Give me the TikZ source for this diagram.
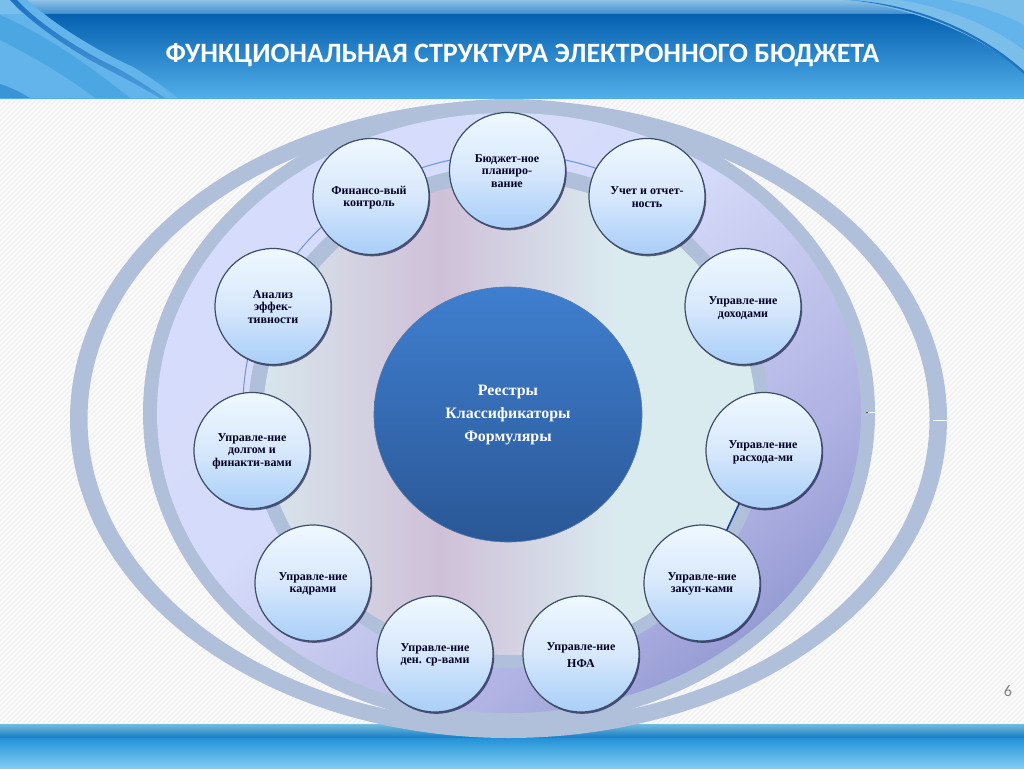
\documentclass[tikz,border=0pt]{standalone}
\usepackage{fontspec}
\setmainfont{Liberation Serif}
\newfontfamily\titlefont{Carlito}
\usetikzlibrary{shadows,shapes.geometric}
\definecolor{ringc}{HTML}{B0C0DB}
\definecolor{bordc}{HTML}{3E4E68}
\definecolor{bubA}{HTML}{ABCFF8}
\definecolor{bubB}{HTML}{B8D7FA}
\definecolor{bubC}{HTML}{D8E8FC}
\definecolor{bubD}{HTML}{EEF8FE}
\pgfdeclareverticalshading{bubshade}{100bp}{color(0bp)=(bubA);color(25bp)=(bubA);color(34bp)=(bubB);color(50bp)=(bubC);color(75bp)=(bubD);color(100bp)=(bubD)}
\definecolor{dA}{HTML}{D8E6EC}
\definecolor{dB}{HTML}{CFC0D8}
\definecolor{dC}{HTML}{DAEBF0}
\pgfdeclarehorizontalshading{discshade}{100bp}{color(0bp)=(dA);color(25bp)=(dA);color(43bp)=(dB);color(61bp)=(dC);color(75bp)=(dC);color(100bp)=(dC)}
\definecolor{hA}{HTML}{0560B0}
\definecolor{hB}{HTML}{52AEE8}
\pgfdeclareverticalshading{headshade}{100bp}{color(0bp)=(hB);color(25bp)=(hB);color(75bp)=(hA);color(100bp)=(hA)}
\definecolor{sA}{HTML}{8FC2E6}
\definecolor{sB}{HTML}{3D8CCF}
\pgfdeclareverticalshading{stripshade}{100bp}{color(0bp)=(sB);color(25bp)=(sB);color(75bp)=(sA);color(100bp)=(sA)}
\definecolor{fA}{HTML}{2090D6}
\definecolor{fB}{HTML}{7FCDF2}
\pgfdeclareverticalshading{footshade}{100bp}{color(0bp)=(fB);color(25bp)=(fB);color(75bp)=(fA);color(100bp)=(fA)}
\definecolor{gA}{HTML}{75BBDD}
\definecolor{gB}{HTML}{1A80C6}
\pgfdeclareverticalshading{fstripshade}{100bp}{color(0bp)=(gB);color(25bp)=(gB);color(75bp)=(gA);color(100bp)=(gA)}
\definecolor{lav1}{HTML}{9296D0}
\definecolor{lav2}{HTML}{9A9FD6}
\definecolor{lav3}{HTML}{B0B3E3}
\definecolor{lav4}{HTML}{C8CCF0}
\definecolor{lav5}{HTML}{D5DBFA}
\definecolor{lav6}{HTML}{D8DEFC}
\pgfdeclareverticalshading{lavshade}{100bp}{color(0bp)=(lav1);color(22bp)=(lav1);color(26bp)=(lav2);color(34bp)=(lav3);color(47bp)=(lav4);color(55bp)=(lav5);color(100bp)=(lav6)}
\definecolor{midA}{HTML}{3F7FCF}
\definecolor{midB}{HTML}{2A5796}
\definecolor{swL}{HTML}{62B4EA}
\definecolor{swM}{HTML}{4CA6E2}
\definecolor{swD}{HTML}{1F72BE}
\definecolor{swB}{HTML}{3C94D8}
\definecolor{swU}{HTML}{7CBEEA}
\tikzset{
  x=1pt,y=-1pt,
  bubble/.style={circle,draw=bordc,line width=1.2pt,minimum size=116pt,inner sep=0pt,shading=bubshade,
    drop shadow={shadow xshift=1.2pt,shadow yshift=-1.8pt,fill=black!75!blue,opacity=.6}},
  lab/.style={align=center,inner sep=0pt,text=black!85!blue,font=\fontsize{12}{12.5}\selectfont\bfseries},
  clab/.style={align=center,inner sep=0pt,text=white,font=\fontsize{15.9}{23}\selectfont\bfseries},
}
\begin{document}
\begin{tikzpicture}
\useasboundingbox (0,0) rectangle (1024,768);
% background
\fill[white!98.5!black] (0,0) rectangle (1024,768);
\begin{scope}
\clip (0,96) rectangle (1024,726);
\foreach \i in {0,5,...,1720}{\draw[black!6,line width=1.3pt] (\i-680,776)--(\i,96);}
\end{scope}
% header
\shade[shading=headshade] (0,14) rectangle (1024,98);
\shade[shading=stripshade] (0,0) rectangle (1024,14);
\begin{scope}
\clip (0,0) rectangle (1024,98);
\fill[swL] (0,0)--(27,0) .. controls (50,20) and (85,45) .. (133,67) .. controls (150,77) and (165,88) .. (178,98)--(0,98)--cycle;
\shade[top color=swD,bottom color=swL!65!swD] (10,0)--(17,0) .. controls (35,20) and (75,48) .. (115,67) .. controls (135,78) and (150,88) .. (165,98)--(160,98) .. controls (140,86) and (120,76) .. (103,67) .. controls (70,50) and (30,22) .. (10,0)--cycle;
\fill[swL!70!white,opacity=.5] (0,0)--(10,0) .. controls (14,5) and (18,10) .. (23,14)--(0,14)--cycle;
\fill[swM] (0,15) .. controls (40,32) and (85,62) .. (130,98)--(95,98) .. controls (65,75) and (30,55) .. (0,40)--cycle;
\fill[swB] (0,84) .. controls (10,87) and (20,92) .. (30,98)--(0,98)--cycle;
\fill[swU] (840,0) .. controls (925,8) and (985,40) .. (1024,72)--(1024,0)--cycle;
\fill[swD] (850,0) .. controls (925,8) and (985,38) .. (1024,74)--(1024,71) .. controls (985,36) and (925,5) .. (850,0)--cycle;
\fill[swL] (900,0) .. controls (950,8) and (995,28) .. (1024,50)--(1024,25) .. controls (1000,12) and (975,5) .. (950,0)--cycle;
\end{scope}
\node[inner sep=0pt,text=white] (title) at (522.5,55.5) {\titlefont\fontsize{28}{32}\selectfont\bfseries ФУНКЦИОНАЛЬНАЯ СТРУКТУРА ЭЛЕКТРОННОГО БЮДЖЕТА};
% footer
\shade[shading=footshade] (0,737) rectangle (1024,768);
\shade[shading=fstripshade] (0,724) rectangle (1024,737);
\node[inner sep=0pt,text=black!50] (pg) at (1008,691) {\titlefont\fontsize{16}{18}\selectfont 6};
% rings
\fill[ringc,even odd rule] (508.5,419) ellipse [x radius=438.5pt,y radius=319pt] (508.5,419) ellipse [x radius=421pt,y radius=303pt];
\fill[ringc] (509,413) ellipse [x radius=366pt,y radius=314pt];
\shade[shading=lavshade,shading angle=40] (509,413) ellipse [x radius=352pt,y radius=300pt];
% disc
\fill[ringc] (508.5,416.5) ellipse [x radius=260.5pt,y radius=251.5pt];
\shade[shading=discshade] (509.5,418) ellipse [x radius=246.5pt,y radius=237pt];
\draw[color={rgb,255:red,108;green,148;blue,218},line width=1pt] plot[domain=70:180,samples=70] ({508+265*cos(\x)},{406-252*sin(\x)});
% small marks
\draw[white,line width=.8pt] (933,420)--(947,420);
\draw[white,line width=.8pt] (868,412.5)--(875,412.5);
\draw[black!70,line width=.8pt] (866,412.5)--(867.5,412.5);
% centre
\node[ellipse,minimum width=268pt,minimum height=255pt,inner sep=0pt,draw=midB!80!white,line width=.6pt,top color=midA,bottom color=midB] (core) at (508,414.5) {};
\node[clab] (coret) at (508,415.5) {Реестры\\Классификаторы\\Формуляры};
% bubbles (connector first)
\coordinate (cA) at (764,450.5);
\coordinate (cB) at (702,583);
\draw[color={rgb,255:red,24;green,64;blue,140},line width=1.6pt] (cA)--(cB);
\node[bubble] (b1) at (507.5,170.5) {};
\node[bubble] (b2) at (647,196.5) {};
\node[bubble] (b3) at (743,306.5) {};
\node[bubble] (b4) at (cA) {};
\node[bubble] (b5) at (cB) {};
\node[bubble] (b6) at (581,654) {};
\node[bubble] (b7) at (435,654) {};
\node[bubble] (b8) at (313,583) {};
\node[bubble] (b9) at (252,450.5) {};
\node[bubble] (b10) at (273,306.5) {};
\node[bubble] (b11) at (371,196.5) {};
\node[lab] (t1) at (507,171) {Бюджет-ное\\планиро-\\вание};
\node[lab] (t2) at (647,197) {Учет и отчет-\\ность};
\node[lab] (t3) at (743,308) {Управле-ние\\доходами};
\node[lab] (t4) at (763,452.5) {Управле-ние\\расхода-ми};
\node[lab] (t5) at (702,584) {Управле-ние\\закуп-ками};
\node[lab,font=\fontsize{12}{17}\selectfont\bfseries] (t6) at (581,655) {Управле-ние\\НФА};
\node[lab] (t7) at (435,655) {Управле-ние\\ден. ср-вами};
\node[lab] (t8) at (313,584) {Управле-ние\\кадрами};
\node[lab] (t9) at (252,451) {Управле-ние\\долгом и\\финакти-вами};
\node[lab] (t10) at (273,307) {Анализ\\эффек-\\тивности};
\node[lab] (t11) at (369,197.5) {Финансо-вый\\контроль};
\end{tikzpicture}
\end{document}
